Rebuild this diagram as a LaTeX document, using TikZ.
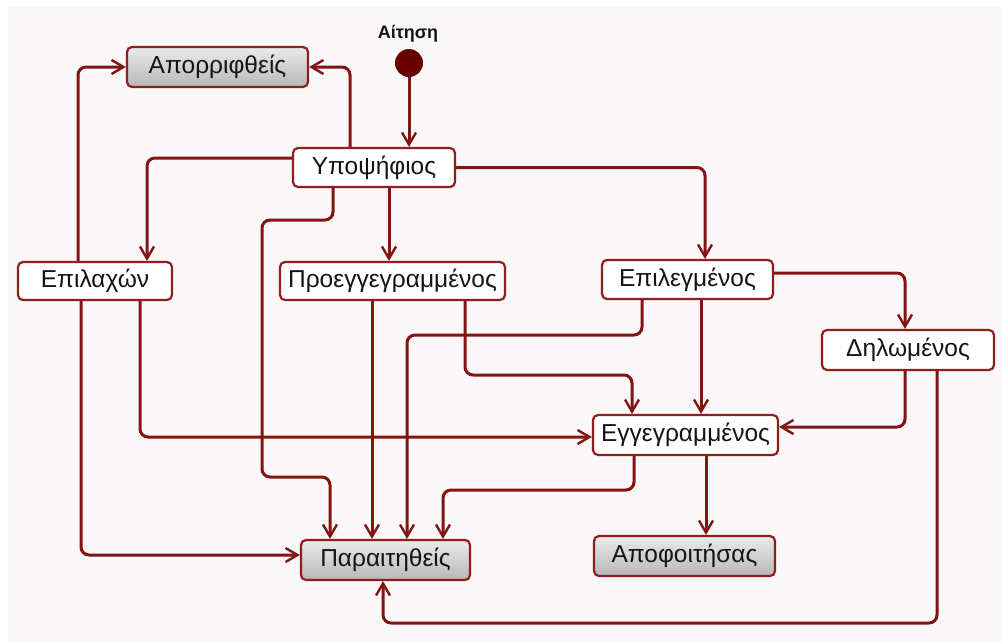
\documentclass[tikz,border=0pt]{standalone}
\usepackage{fontspec}
\setmainfont{Liberation Sans}
\usetikzlibrary{arrows.meta,calc}
\definecolor{lineclr}{RGB}{130,20,20}
\definecolor{boxclr}{RGB}{145,30,30}
\definecolor{bgclr}{RGB}{249,247,248}
\definecolor{txtclr}{RGB}{20,20,20}
\definecolor{initclr}{RGB}{105,0,0}
\begin{document}
\begin{tikzpicture}[x=1pt,y=-1pt,
  state/.style={draw=boxclr, line width=2.2pt, rounded corners=5pt, fill=white,
    inner sep=0pt, text=txtclr, font=\fontsize{24.5}{28}\selectfont},
  final/.style={state, top color=white!92!black, bottom color=white!72!black},
  conn/.style={draw=lineclr, line width=3pt, rounded corners=8pt,
    -{Straight Barb[length=12pt,width=14pt,line width=2.4pt]}},
  initst/.style={circle, fill=initclr, draw=lineclr!70!black, line width=1pt,
    minimum size=27pt, inner sep=0pt}]
\useasboundingbox (0,0) rectangle (1002,643);
\fill[bgclr] (8,7) rectangle (1002,643);

% states
\node[final, minimum width=181pt, minimum height=40pt] (apo)  at (217.5,67)  {Απορριφθείς};
\node[state, minimum width=162pt, minimum height=39pt] (ypo)  at (374,167.5) {Υποψήφιος};
\node[state, minimum width=154pt, minimum height=38pt] (epil) at (95,281)    {Επιλαχών};
\node[state, minimum width=225pt, minimum height=38pt] (proe) at (392.5,281) {Προεγγεγραμμένος};
\node[state, minimum width=171pt, minimum height=39pt] (epi)  at (687.5,279.5) {Επιλεγμένος};
\node[state, minimum width=172pt, minimum height=40pt] (dil)  at (908,350)   {Δηλωμένος};
\node[state, minimum width=185pt, minimum height=40pt] (egg)  at (685.5,435) {Εγγεγραμμένος};
\node[final, minimum width=169pt, minimum height=40pt] (par)  at (385.5,560) {Παραιτηθείς};
\node[final, minimum width=181pt, minimum height=40pt] (apof) at (684.5,556) {Αποφοιτήσας};

% initial state
\node[initst] (init) at (409,63) {};
\node[font=\bfseries\fontsize{18}{20}\selectfont, text=txtclr] (aitlbl) at (408,34) {Αίτηση};

% connectors
\draw[conn] (init.south) -- (init.south |- ypo.north);
\draw[conn] (ypo.north -| 350,0) |- (apo.east);
\draw[conn] (epil.north -| 78,0) |- (apo.west);
\draw[conn] (ypo.west |- 0,158) -| (epil.north -| 147,0);
\draw[conn] (ypo.south -| 333,0) |- (262,220) |- (330,477) -- (par.north -| 330,0);
\draw[conn] (ypo.south -| 389,0) -- (proe.north -| 389,0);
\draw[conn] (ypo.east) -| (epi.north -| 705,0);
\draw[conn] (epi.east |- 0,273) -| (dil.north -| 905,0);
\draw[conn] (epi.south -| 642,0) |- (407,335) -- (par.north -| 407,0);
\draw[conn] (epi.south -| 701,0) -- (egg.north -| 701,0);
\draw[conn] (proe.south -| 465,0) |- (632,375) -- (egg.north -| 632,0);
\draw[conn] (proe.south -| 372,0) -- (par.north -| 372,0);
\draw[conn] (epil.south -| 140,0) |- (egg.west |- 0,437);
\draw[conn] (epil.south -| 81,0) |- (par.west |- 0,555);
\draw[conn] (dil.south -| 905,0) |- (egg.east |- 0,427);
\draw[conn] (egg.south -| 634,0) |- (443,490) -- (par.north -| 443,0);
\draw[conn] (egg.south -| 706,0) -- (apof.north -| 706,0);
\draw[conn] (dil.south -| 937,0) |- (383,623) -- (par.south -| 383,0);
\end{tikzpicture}
\end{document}
